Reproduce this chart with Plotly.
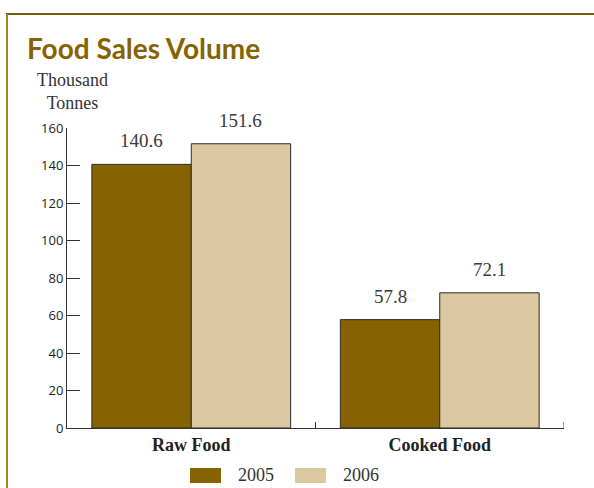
import plotly.graph_objects as go

categories = ["Raw Food", "Cooked Food"]
years = ["2005", "2006"]
values_2005 = [140.6, 57.8]
values_2006 = [151.6, 72.1]
tick_vals = [0, 20, 40, 60, 80, 100, 120, 140, 160]

colors = ["#866300", "#dcc8a0"]
series = [values_2005, values_2006]

serif = "Liberation Serif"
sans = "Open Sans"

W, H = 594, 488
ML, MR, MT, MB = 67, 30, 128, 60
pw, ph = W - ML - MR, H - MT - MB


def px(xp):
    return (xp - ML) / pw


def py(yp):
    return (H - MB - yp) / ph


fig = go.Figure()
for name, vals, col in zip(years, series, colors):
    fig.add_trace(go.Bar(
        x=categories, y=vals, name=name,
        marker=dict(color=col, line=dict(color="#2b2b2b", width=1)),
    ))

# value labels above bars
bar_px = 99
for i, vals in enumerate(series):
    for cat, v in zip(categories, vals):
        fig.add_annotation(
            x=cat, y=v, xref="x", yref="y", text=f"{v:.1f}",
            showarrow=False, xshift=(i - 0.5) * bar_px, yanchor="bottom", yshift=11,
            font=dict(family=serif, size=19, color="#3a3a3a"),
        )

fig.update_layout(
    width=W, height=H,
    margin=dict(l=ML, r=MR, t=MT, b=MB, autoexpand=False),
    paper_bgcolor="white", plot_bgcolor="white",
    barmode="group", bargap=0.2, bargroupgap=0,
    showlegend=False,
    xaxis=dict(showline=True, linecolor="#333333", linewidth=1, range=[-0.5, 1.5],
               ticks="inside", ticklen=6, tickcolor="#333333", tickson="boundaries",
               tickfont=dict(family=serif, size=18, color="#222222"),
               tickvals=categories, ticktext=[f"<b>{c}</b>" for c in categories],
               showgrid=False, automargin=False),
    yaxis=dict(range=[0, 160], tickvals=tick_vals, showline=True, linecolor="#333333",
               linewidth=1, ticks="inside", ticklen=13, tickcolor="#333333",
               tickfont=dict(family=sans, size=13, color="#222222"),
               showgrid=False, zeroline=False, automargin=False),
)

# end tick on the category axis
fig.add_shape(type="line", xref="x", yref="paper",
              x0=len(categories) - 0.5, x1=len(categories) - 0.5, y0=0, y1=6 / ph,
              line=dict(color="#333333", width=1))

# title and y-axis title
fig.add_annotation(x=px(25), y=py(48), xref="paper", yref="paper", xanchor="left", yanchor="middle",
                   text="<b>Food Sales Volume</b>", showarrow=False,
                   font=dict(family="Lato", size=28, color="#866300"))
fig.add_annotation(x=px(72), y=py(91), xref="paper", yref="paper", xanchor="center", yanchor="middle",
                   text="Thousand<br>Tonnes", showarrow=False, align="center",
                   font=dict(family=serif, size=18, color="#333333"))

# custom legend
legend_x = [190, 295]
for name, col, lx in zip(years, colors, legend_x):
    fig.add_shape(type="rect", xref="paper", yref="paper",
                  x0=px(lx), x1=px(lx + 31), y0=py(483), y1=py(468),
                  fillcolor=col, line=dict(width=0))
    fig.add_annotation(x=px(lx + 46), y=py(475), xref="paper", yref="paper",
                       xanchor="left", yanchor="middle", text=name, showarrow=False,
                       font=dict(family=serif, size=18, color="#333333"))

# decorative frame
fig.add_shape(type="line", xref="paper", yref="paper", x0=px(6), x1=px(594), y0=py(14), y1=py(14),
              line=dict(color="#7a5a14", width=2))
fig.add_shape(type="line", xref="paper", yref="paper", x0=px(7), x1=px(7), y0=py(14), y1=py(488),
              line=dict(color="#a0802a", width=2))

fig.write_html("out.html")
